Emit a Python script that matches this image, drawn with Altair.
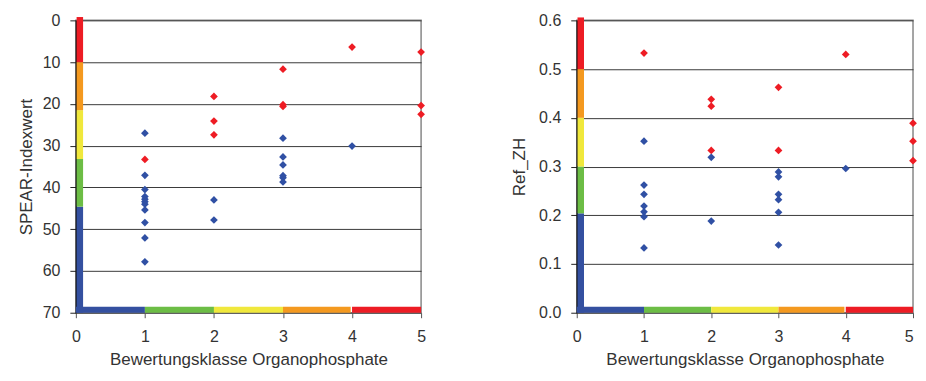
import altair as alt
import pandas as pd

# ---------------- data ----------------
classes_ticks = [0, 1, 2, 3, 4, 5]

# Left panel: SPEAR-Indexwert
spear_x = [1]*12 + [2]*5 + [3]*9 + [4]*2 + [5]*3
spear_y = [27.0, 37.1, 40.5, 42.2, 42.8, 43.4, 44.0, 45.4, 48.4, 52.1, 57.8, 33.3,
           18.2, 24.1, 27.4, 43.0, 47.8,
           11.7, 20.2, 20.6, 28.2, 32.7, 34.6, 37.2, 37.7, 38.7,
           6.4, 30.1,
           7.6, 20.4, 22.5]
spear_c = ["b"]*11 + ["r"] + \
          ["r"]*3 + ["b"]*2 + \
          ["r"]*3 + ["b"]*6 + \
          ["r", "b"] + \
          ["r"]*3

# Right panel: Ref_ZH
ref_x = [1]*8 + [2]*5 + [3]*8 + [4]*2 + [5]*3
ref_y = [0.533, 0.352, 0.262, 0.243, 0.219, 0.207, 0.197, 0.133,
         0.438, 0.424, 0.333, 0.319, 0.188,
         0.4625, 0.333, 0.289, 0.279, 0.243, 0.232, 0.206, 0.139,
         0.530, 0.296,
         0.389, 0.352, 0.312]
ref_c = ["r"] + ["b"]*7 + \
        ["r"]*3 + ["b"]*2 + \
        ["r"]*2 + ["b"]*6 + \
        ["r", "b"] + \
        ["r"]*3

# colour bands (class colours)
band_names = ["blue", "green", "yellow", "orange", "red"]
band_colors = ["#3450a0", "#6cbd45", "#f0e83c", "#f4991f", "#ed1c24"]

# horizontal (x) bands: class 0-1 ... 4-5
xband_start = [0, 1, 2, 3, 4]
xband_end = [1, 2, 3, 3.98, 5]

# vertical bands, left panel (SPEAR values)
spear_band_start = [70, 44.6, 33.2, 21.5, 10.0]
spear_band_end = [44.6, 33.2, 21.5, 10.0, -0.8]

# vertical bands, right panel (Ref_ZH)
ref_band_start = [0.0, 0.204, 0.3, 0.4, 0.5]
ref_band_end = [0.204, 0.3, 0.4, 0.5, 0.606]

point_colors = {"b": "#3050a4", "r": "#ee1c24"}

FONT = "Liberation Sans"
TXT = "#333333"
PLOT_H = 293

def panel(xs, ys, cs, vb_start, vb_end, ydomain, yreverse, ytitle, yticks, yfmt, width,
          xlast_right, ylabpad, ytitlepad):
    pts = pd.DataFrame({"k": xs, "v": ys, "c": cs})
    vb = pd.DataFrame({"name": band_names, "s": vb_start, "e": vb_end})
    hb = pd.DataFrame({"name": band_names, "s": xband_start, "e": xband_end,
                       "base": [ydomain[1] if yreverse else ydomain[0]]*5})
    vb["zero"] = 0

    color_scale = alt.Scale(domain=band_names, range=band_colors)
    xaxis = alt.Axis(values=classes_ticks, format="d", title="Bewertungsklasse Organophosphate",
                     grid=False, tickSize=5, tickColor="#555555", domain=False,
                     labelPadding=11, titlePadding=7,
                     labelAlign=(alt.ConditionalAxisLabelAlign(condition={"test": "datum.value == 5", "value": "right"}, value="center")
                                 if xlast_right else "center"))
    xscale = alt.Scale(domain=[0, 5], nice=False, zero=False)
    yscale = alt.Scale(domain=ydomain, reverse=yreverse, nice=False, zero=False)
    yaxis = alt.Axis(values=yticks, format=yfmt, title=ytitle, grid=True, gridColor="#3a3a3a",
                     gridWidth=1, tickSize=6, tickColor="#222222", domainColor="#111111",
                     domainWidth=1.5, labelPadding=ylabpad, titlePadding=ytitlepad)

    vbars = alt.Chart(vb).mark_rule(strokeWidth=6.5, xOffset=4, strokeCap="butt").encode(
        x=alt.X("zero:Q", scale=xscale, axis=xaxis),
        y=alt.Y("s:Q", scale=yscale, axis=yaxis),
        y2="e:Q",
        color=alt.Color("name:N", scale=color_scale, legend=None),
    )
    hbars = alt.Chart(hb).mark_rule(strokeWidth=6, yOffset=-3, strokeCap="butt").encode(
        x=alt.X("s:Q", scale=xscale),
        x2="e:Q",
        y=alt.Y("base:Q", scale=yscale),
        color=alt.Color("name:N", scale=color_scale, legend=None),
    )
    points = alt.Chart(pts).mark_point(shape="diamond", filled=True, size=60, opacity=1).encode(
        x=alt.X("k:Q", scale=xscale),
        y=alt.Y("v:Q", scale=yscale),
        fill=alt.Fill("c:N", scale=alt.Scale(domain=list(point_colors.keys()),
                                             range=list(point_colors.values())), legend=None),
    )
    return alt.layer(vbars, hbars, points).properties(width=width, height=PLOT_H)

left = panel(spear_x, spear_y, spear_c, spear_band_start, spear_band_end, [0, 70], True,
             "SPEAR-Indexwert", [0, 10, 20, 30, 40, 50, 60, 70], "d", 346, False, 10, 7)
right = panel(ref_x, ref_y, ref_c, ref_band_start, ref_band_end, [0, 0.6], False,
              "Ref_ZH", [0.0, 0.1, 0.2, 0.3, 0.4, 0.5, 0.6], ".1f", 337, True, 10, 10)

chart = alt.hconcat(left, right, spacing=83).resolve_scale(color="independent", fill="independent") \
    .properties(padding={"left": 8, "top": 3, "right": 0, "bottom": 0}) \
    .configure_view(stroke="#888888", strokeWidth=1.5) \
    .configure_axis(labelFont=FONT, titleFont=FONT, labelFontSize=16, titleFontSize=17,
                    labelColor=TXT, titleColor=TXT, titleFontWeight="normal")

chart.save("out.html", embed_options={"renderer": "svg", "actions": False})
